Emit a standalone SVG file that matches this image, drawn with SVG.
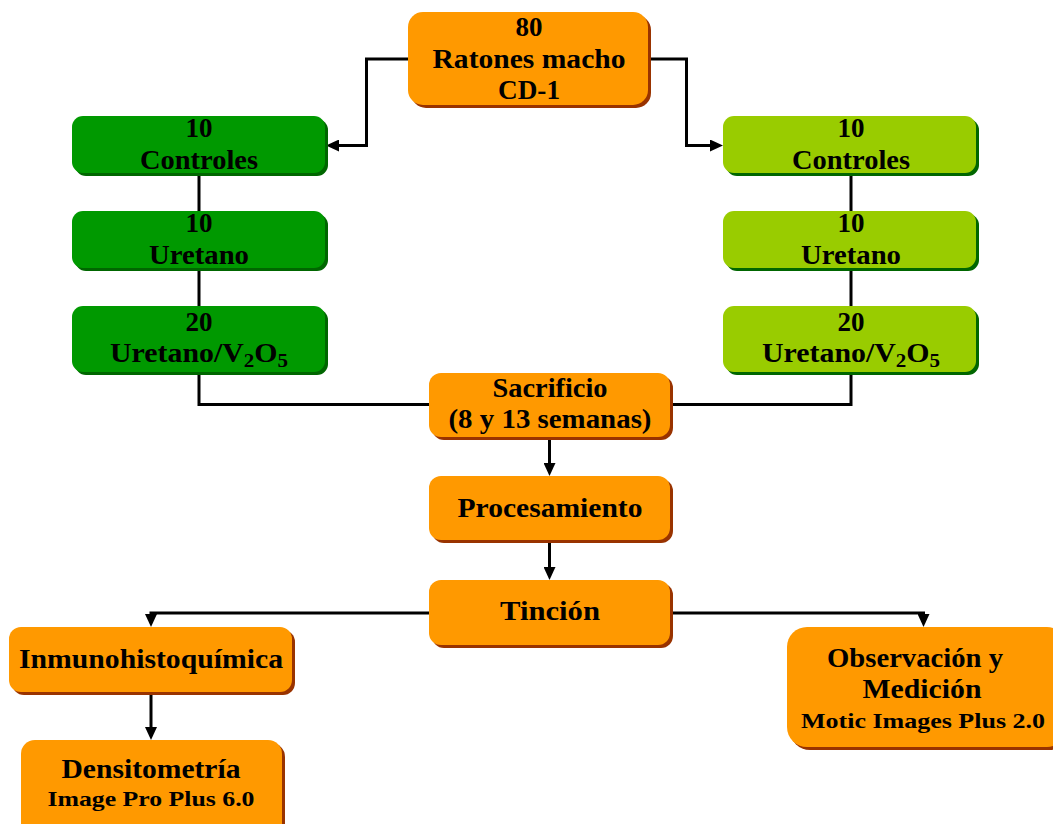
<svg xmlns="http://www.w3.org/2000/svg" width="1053" height="824" viewBox="0 0 1053 824">
<style>
.t{font-family:"Liberation Serif","Times New Roman",serif;font-weight:bold;fill:#000;text-anchor:middle}
.m{font-size:27px}.s{font-size:22px}
.or{fill:#FF9900}.ors{fill:#993300}
.dg{fill:#009900}.dgs{fill:#006600}
.lg{fill:#99CC00}.lgs{fill:#006600}
.c{fill:none;stroke:#000;stroke-width:3}
.a{marker-end:url(#ah)}
</style>
<defs>
<marker id="ah" markerUnits="userSpaceOnUse" markerWidth="13" markerHeight="12" refX="3" refY="6" orient="auto"><path d="M0,0 L13,6 L0,12 z" fill="#000"/></marker>
</defs>
<rect width="1053" height="824" fill="#fff"/>
<g id="connectors">
<path class="c a" d="M408,59 H366.5 V145.5 H336"/>
<path class="c a" d="M650,59 H686.5 V145.5 H713"/>
<path class="c" d="M199,175 V404.5 H429"/>
<path class="c" d="M851,175 V404.5 H670"/>
<path class="c a" d="M549.5,437 V466"/>
<path class="c a" d="M549.5,540 V570"/>
<path class="c a" d="M429,613 H151 V617"/>
<path class="c a" d="M670,613 H923.5 V617"/>
<path class="c a" d="M151,692 V730"/>
</g>
<g id="n-ratones">
<rect class="ors" x="411" y="15" width="240" height="93" rx="15"/>
<rect class="or" x="408" y="12" width="240" height="93" rx="15"/>
<text class="t m" x="529" y="36">80</text>
<text class="t m" x="529" y="68" textLength="193" lengthAdjust="spacingAndGlyphs">Ratones macho</text>
<text class="t m" x="529" y="99" textLength="62" lengthAdjust="spacingAndGlyphs">CD-1</text>
</g>
<g id="n-l-controles">
<rect class="dgs" x="75" y="119" width="253" height="57" rx="11"/>
<rect class="dg" x="72" y="116" width="253" height="57" rx="11"/>
<text class="t m" x="199" y="137">10</text>
<text class="t m" x="199" y="169" textLength="118" lengthAdjust="spacingAndGlyphs">Controles</text>
</g>
<g id="n-l-uretano">
<rect class="dgs" x="75" y="214" width="253" height="57" rx="11"/>
<rect class="dg" x="72" y="211" width="253" height="57" rx="11"/>
<text class="t m" x="199" y="232">10</text>
<text class="t m" x="199" y="264" textLength="100" lengthAdjust="spacingAndGlyphs">Uretano</text>
</g>
<g id="n-l-v2o5">
<rect class="dgs" x="75" y="309" width="253" height="66" rx="11"/>
<rect class="dg" x="72" y="306" width="253" height="66" rx="11"/>
<text class="t m" x="199" y="331">20</text>
<text class="t m" x="199" y="362" textLength="178" lengthAdjust="spacingAndGlyphs">Uretano/V<tspan font-size="19" dy="5">2</tspan><tspan dy="-5">O</tspan><tspan font-size="19" dy="5">5</tspan></text>
</g>
<g id="n-r-controles">
<rect class="lgs" x="726" y="119" width="253" height="57" rx="11"/>
<rect class="lg" x="723" y="116" width="253" height="57" rx="11"/>
<text class="t m" x="851" y="137">10</text>
<text class="t m" x="851" y="169" textLength="118" lengthAdjust="spacingAndGlyphs">Controles</text>
</g>
<g id="n-r-uretano">
<rect class="lgs" x="726" y="214" width="253" height="57" rx="11"/>
<rect class="lg" x="723" y="211" width="253" height="57" rx="11"/>
<text class="t m" x="851" y="232">10</text>
<text class="t m" x="851" y="264" textLength="100" lengthAdjust="spacingAndGlyphs">Uretano</text>
</g>
<g id="n-r-v2o5">
<rect class="lgs" x="726" y="309" width="253" height="66" rx="11"/>
<rect class="lg" x="723" y="306" width="253" height="66" rx="11"/>
<text class="t m" x="851" y="331">20</text>
<text class="t m" x="851" y="362" textLength="178" lengthAdjust="spacingAndGlyphs">Uretano/V<tspan font-size="19" dy="5">2</tspan><tspan dy="-5">O</tspan><tspan font-size="19" dy="5">5</tspan></text>
</g>
<g id="n-sacrificio">
<rect class="ors" x="432" y="376" width="241" height="64" rx="12"/>
<rect class="or" x="429" y="373" width="241" height="64" rx="12"/>
<text class="t m" x="550" y="397" textLength="115" lengthAdjust="spacingAndGlyphs">Sacrificio</text>
<text class="t m" x="550" y="428" textLength="203" lengthAdjust="spacingAndGlyphs">(8 y 13 semanas)</text>
</g>
<g id="n-procesamiento">
<rect class="ors" x="432" y="479" width="241" height="64" rx="12"/>
<rect class="or" x="429" y="476" width="241" height="64" rx="12"/>
<text class="t m" x="550" y="517" textLength="185" lengthAdjust="spacingAndGlyphs">Procesamiento</text>
</g>
<g id="n-tincion">
<rect class="ors" x="432" y="583" width="241" height="65" rx="12"/>
<rect class="or" x="429" y="580" width="241" height="65" rx="12"/>
<text class="t m" x="550" y="620" textLength="100" lengthAdjust="spacingAndGlyphs">Tinción</text>
</g>
<g id="n-inmuno">
<rect class="ors" x="12" y="630" width="283" height="65" rx="12"/>
<rect class="or" x="9" y="627" width="283" height="65" rx="12"/>
<text class="t m" x="151" y="668" textLength="264" lengthAdjust="spacingAndGlyphs">Inmunohistoquímica</text>
</g>
<g id="n-densito">
<rect class="ors" x="24" y="743" width="261" height="100" rx="14"/>
<rect class="or" x="21" y="740" width="261" height="100" rx="14"/>
<text class="t m" x="151" y="778" textLength="179" lengthAdjust="spacingAndGlyphs">Densitometría</text>
<text class="t s" x="151" y="806" textLength="207" lengthAdjust="spacingAndGlyphs">Image Pro Plus 6.0</text>
</g>
<g id="n-observacion">
<rect class="ors" x="790" y="630" width="280" height="120" rx="20"/>
<rect class="or" x="787" y="627" width="280" height="120" rx="20"/>
<text class="t m" x="915" y="667" textLength="176" lengthAdjust="spacingAndGlyphs">Observación y</text>
<text class="t m" x="922" y="698" textLength="119" lengthAdjust="spacingAndGlyphs">Medición</text>
<text class="t s" x="923" y="728" textLength="244" lengthAdjust="spacingAndGlyphs">Motic Images Plus 2.0</text>
</g>
</svg>
